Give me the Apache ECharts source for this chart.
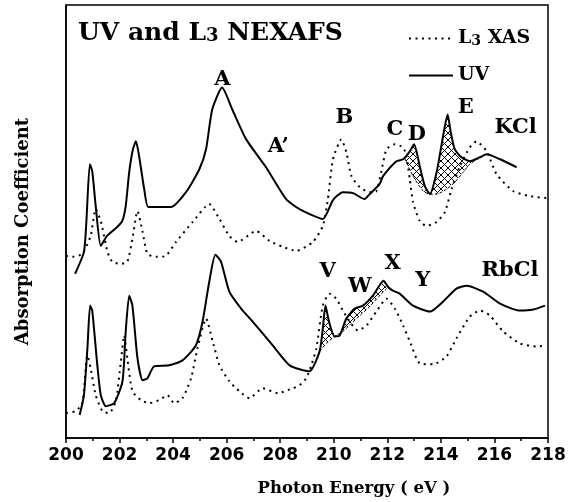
<!DOCTYPE html>
<html><head><meta charset="utf-8">
<script src="https://cdn.jsdelivr.net/npm/echarts@6.0.0/dist/echarts.min.js"></script>
<style>html,body{margin:0;padding:0;background:#fff}#c{width:574px;height:502px}</style>
</head><body><div id="c"></div>
<script>
// ---- data (photon energy eV, absorption in arbitrary units) ----
const kclUV = [[200.34,165],[200.67,187],[200.76,217],[200.89,275],[200.98,268],[201.11,233],[201.30,193],[201.53,203],[201.91,212],[202.10,218],[202.23,233],[202.36,267],[202.50,290],[202.61,298],[202.72,285],[202.92,250],[203.07,232],[203.48,232],[203.92,232],[204.48,247],[204.98,270],[205.23,290],[205.46,330],[205.83,352],[206.21,330],[206.73,300],[207.47,272],[208.22,240],[208.72,230],[209.59,220],[209.97,239],[210.34,247],[210.72,246],[211.15,240],[211.34,245],[211.71,255],[211.84,263],[212.34,278],[212.59,280],[212.84,288],[213.00,295],[213.21,273],[213.40,253],[213.59,245],[213.84,267],[214.08,303],[214.25,325],[214.37,307],[214.52,290],[214.77,282],[215.08,278],[215.46,282],[215.71,285],[216.21,280],[216.83,272]];
const kclXAS = [[200.00,183],[200.24,182],[200.61,185],[200.92,203],[201.11,230],[201.30,218],[201.55,187],[201.73,177],[202.05,175],[202.29,177],[202.48,200],[202.67,228],[202.86,207],[203.04,185],[203.36,182],[203.73,183],[204.11,197],[204.73,217],[205.35,235],[205.73,220],[206.10,203],[206.41,197],[207.10,208],[207.60,198],[208.10,192],[208.60,188],[209.22,197],[209.59,213],[209.78,240],[209.97,280],[210.28,300],[210.47,287],[210.66,263],[210.97,252],[211.34,247],[211.59,248],[211.77,267],[211.97,290],[212.28,295],[212.59,292],[212.71,283],[212.84,260],[212.96,237],[213.21,218],[213.46,213],[213.84,217],[214.15,227],[214.40,250],[214.71,273],[215.08,292],[215.33,298],[215.71,288],[216.08,265],[216.70,248],[217.33,243],[217.95,241]];
const kclBase = [[212.65,281],[212.96,263],[213.34,248],[213.59,245],[213.84,245],[214.21,250],[214.52,257],[214.83,267],[215.08,275],[215.46,282]];
const rbclUV = [[200.51,23],[200.67,43],[200.80,90],[200.90,133],[200.98,128],[201.17,73],[201.30,43],[201.49,32],[201.80,35],[202.11,57],[202.23,107],[202.36,143],[202.48,133],[202.67,80],[202.86,58],[203.04,60],[203.29,72],[203.85,73],[204.35,78],[204.85,93],[205.10,117],[205.35,157],[205.58,184],[205.79,177],[206.10,147],[206.54,130],[206.97,117],[207.72,93],[208.35,73],[209.09,67],[209.47,87],[209.59,110],[209.69,133],[209.82,117],[210.03,102],[210.22,103],[210.47,120],[210.78,130],[211.09,133],[211.46,143],[211.86,158],[212.02,152],[212.21,148],[212.46,145],[212.96,133],[213.59,127],[214.08,137],[214.58,150],[214.96,153],[215.58,147],[216.21,135],[216.95,128],[217.45,129],[217.89,133]];
const rbclXAS = [[200.00,25],[200.36,27],[200.61,35],[200.80,83],[200.92,70],[201.11,43],[201.36,27],[201.61,25],[201.86,37],[202.05,77],[202.17,103],[202.29,80],[202.48,47],[202.80,38],[203.11,35],[203.48,38],[203.79,43],[204.04,35],[204.35,40],[204.67,60],[204.91,90],[205.23,120],[205.48,97],[205.73,73],[206.10,57],[206.47,47],[206.85,40],[207.35,50],[207.91,45],[208.47,50],[208.72,53],[208.97,60],[209.16,73],[209.35,90],[209.59,133],[209.84,145],[210.09,140],[210.34,128],[210.59,117],[210.90,108],[211.22,113],[211.59,127],[211.97,140],[212.28,130],[212.59,113],[212.84,97],[213.21,75],[213.71,74],[214.21,82],[214.58,100],[215.08,122],[215.46,128],[215.83,123],[216.33,107],[216.95,95],[217.58,92],[217.95,93]];
const rbclBase = [[209.47,87],[209.72,95],[210.03,102],[210.34,107],[210.65,115],[210.97,123],[211.34,132],[211.71,143],[211.97,150]];
const peakLabels = [['A',205.84,360],['A’',207.93,293],['B',210.40,322],['C',212.28,310],['D',213.10,305],['E',214.93,332],['KCl',216.79,312],['V',209.77,167],['W',210.97,152],['X',212.20,175],['Y',213.32,158],['RbCl',216.58,168]];

// hatch pattern
const s = 7, hatch = document.createElement('canvas');
hatch.width = s; hatch.height = s;
const hc = hatch.getContext('2d');
hc.strokeStyle = '#000'; hc.lineWidth = 1;
hc.beginPath(); hc.moveTo(-1,-1); hc.lineTo(s+1,s+1); hc.moveTo(s+1,-1); hc.lineTo(-1,s+1); hc.stroke();

function polyBetween(curve, base){
  const x0 = base[0][0], x1 = base[base.length-1][0];
  const top = curve.filter(p => p[0] >= x0 && p[0] <= x1);
  return [base[0]].concat(top, [base[base.length-1]], base.slice().reverse());
}
function hatchSeries(poly){
  return {type:'custom', silent:true, clip:true, z:1, data: poly, encode:{x:0,y:1},
    renderItem: function(params, api){
      if (params.dataIndex !== 0) return null;
      const pts = poly.map(p => api.coord(p));
      return {type:'polygon', shape:{points:pts}, style:{fill:{image:hatch, repeat:'repeat'}, stroke:null}};
    }};
}
const serif = 'DejaVu Serif';
const dotted = {color:'#000', width:2, type:[2,4.5]};
const solid = {color:'#000', width:2};
const dashedBase = {color:'#000', width:1, type:[3,2]};
const sm = 0.2;

const chart = echarts.init(document.getElementById('c'), null, {renderer:'canvas'});
chart.setOption({
  animation:false,
  title:{text:'{a|UV and L}{s|3}{a| NEXAFS}', left:73, top:16,
    textStyle:{rich:{a:{fontFamily:serif, fontWeight:'bold', fontSize:25, color:'#000'}, s:{fontFamily:serif, fontWeight:'bold', fontSize:18, color:'#000', verticalAlign:'bottom', padding:[0,0,1,0]}}}},
  legend:{data:['L3 XAS','UV'], orient:'vertical', left:403, top:24, itemWidth:44, itemHeight:20, itemGap:18, selectedMode:false,
    itemStyle:{color:'rgba(0,0,0,0)', borderColor:'rgba(0,0,0,0)', borderWidth:0},
    formatter: n => n === 'L3 XAS' ? '{a|L}{s|3}{a| XAS}' : '{a|UV}',
    textStyle:{padding:[0,0,0,0], rich:{a:{fontFamily:serif, fontWeight:'bold', fontSize:19, color:'#000'}, s:{fontFamily:serif, fontWeight:'bold', fontSize:14, color:'#000', verticalAlign:'bottom'}}}},
  grid:{left:66, right:26, top:5, bottom:62, show:true, borderColor:'#000', borderWidth:1.5},
  xAxis:{type:'value', min:200, max:218, interval:2,
    axisLine:{lineStyle:{color:'#000', width:1.5}},
    axisTick:{show:true, length:5, lineStyle:{color:'#000', width:1.5}},
    minorTick:{show:true, splitNumber:2, length:3, lineStyle:{color:'#000', width:1.5}},
    splitLine:{show:false},
    axisLabel:{color:'#000', fontFamily:'DejaVu Sans', fontWeight:'bold', fontSize:17, margin:9},
    name:'Photon Energy ( eV )', nameLocation:'middle', nameGap:42,
    nameTextStyle:{color:'#000', fontFamily:serif, fontWeight:'bold', fontSize:16.5, padding:[0,0,0,94]}},
  yAxis:{type:'value', min:0, max:435,
    axisLine:{show:true, lineStyle:{color:'#000', width:1.5}},
    axisTick:{show:false}, axisLabel:{show:false}, splitLine:{show:false},
    name:'Absorption Coefficient', nameLocation:'middle', nameGap:34, nameRotate:90,
    nameTextStyle:{color:'#000', fontFamily:serif, fontWeight:'bold', fontSize:18, padding:[0,20,0,0]}},
  series:[
    hatchSeries(polyBetween(kclUV, kclBase)),
    hatchSeries(polyBetween(rbclUV, rbclBase)),
    {type:'line', name:'baseK', data:kclBase, symbol:'none', smooth:sm, lineStyle:dashedBase, z:2},
    {type:'line', name:'baseR', data:rbclBase, symbol:'none', smooth:sm, lineStyle:dashedBase, z:2},
    {type:'line', name:'L3 XAS', data:kclXAS, symbol:'none', smooth:sm, lineStyle:dotted, itemStyle:{color:'#000'}, z:3},
    {type:'line', name:'L3 XAS', data:rbclXAS, symbol:'none', smooth:sm, lineStyle:dotted, itemStyle:{color:'#000'}, z:3},
    {type:'line', name:'UV', data:kclUV, symbol:'none', smooth:sm, lineStyle:solid, itemStyle:{color:'#000'}, z:4},
    {type:'line', name:'UV', data:rbclUV, symbol:'none', smooth:sm, lineStyle:solid, itemStyle:{color:'#000'}, z:4},
    {type:'scatter', name:'labels', symbolSize:0, silent:true, z:5, itemStyle:{opacity:1, color:'#000'},
      data: peakLabels.map(l => ({value:[l[1], l[2]], name:l[0]})),
      label:{show:true, position:'inside', formatter:'{b}', color:'#000', fontFamily:serif, fontWeight:'bold', fontSize:21}}
  ]
});
</script></body></html>
